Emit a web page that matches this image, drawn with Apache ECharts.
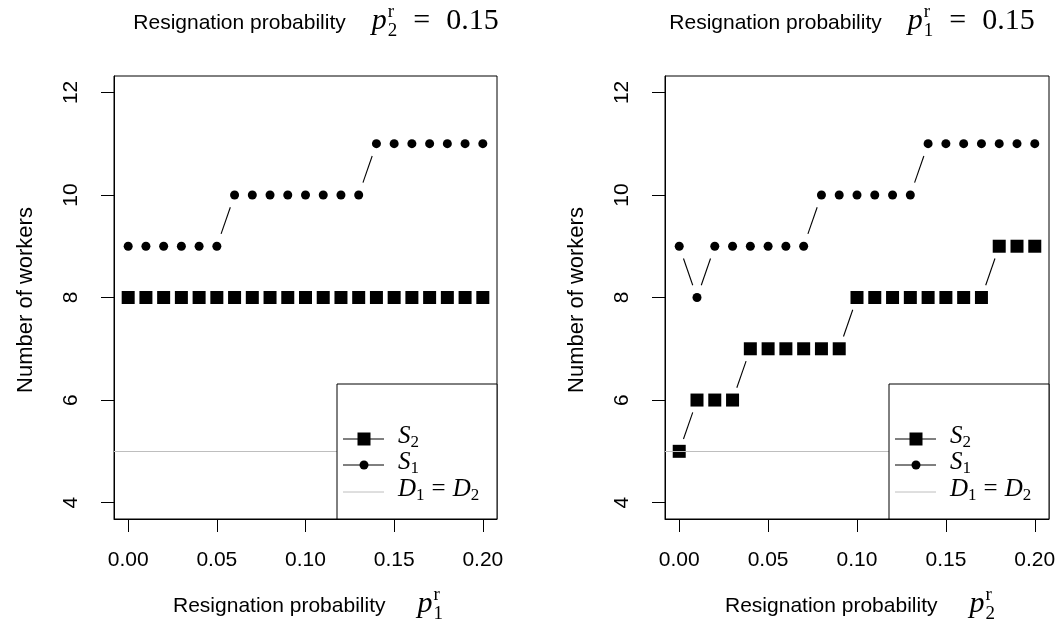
<!DOCTYPE html>
<html><head><meta charset="utf-8">
<script src="https://cdn.jsdelivr.net/npm/echarts@6/dist/echarts.min.js"></script>
<style>html,body{margin:0;padding:0;background:#fff}#c{width:1061px;height:624px}</style>
</head><body><div id="c"></div>
<script>
// ---- data ----
const xValues = [0.00,0.01,0.02,0.03,0.04,0.05,0.06,0.07,0.08,0.09,0.10,0.11,0.12,0.13,0.14,0.15,0.16,0.17,0.18,0.19,0.20];
const leftS2  = [8,8,8,8,8,8,8,8,8,8,8,8,8,8,8,8,8,8,8,8,8];
const leftS1  = [9,9,9,9,9,9,10,10,10,10,10,10,10,10,11,11,11,11,11,11,11];
const rightS2 = [5,6,6,6,7,7,7,7,7,7,8,8,8,8,8,8,8,8,9,9,9];
const rightS1 = [9,8,9,9,9,9,9,9,10,10,10,10,10,10,11,11,11,11,11,11,11];
const demandLevel = 5;
const xTicks = [0, 0.05, 0.10, 0.15, 0.20];
const yTicks = [4, 6, 8, 10, 12];

// ---- layout ----
const SANS = 'Liberation Sans, Arial, Helvetica, sans-serif';
const SERIF = 'Liberation Serif, Times New Roman, serif';
const FS = 21;
const MS = 30;   // math font size
const SS = 19;   // script size
const grids = [
  {left:114, top:76, width:383, height:443},
  {left:665, top:76, width:384, height:443}
];
const GAP = 13;

const ctx = document.createElement('canvas').getContext('2d');
function fstr(s){ return (s.it ? 'italic ' : '') + s.sz + 'px ' + s.fam; }
function tw(text, s){ ctx.font = fstr(s); return ctx.measureText(text).width; }

// segs: {t, fam, sz, it, dy, pad} or {stack:[sup, sub], pad}
function mathRow(segs, x0, cy, align){
  let total = 0;
  const widths = segs.map(s => {
    let w;
    if (s.stack) w = Math.max(...s.stack.map(q => tw(q.t, q)));
    else w = tw(s.t, s);
    w += (s.pad || 0);
    total += w; return w;
  });
  let x = align === 'center' ? x0 - total/2 : x0;
  const els = [];
  segs.forEach((s, i) => {
    const items = s.stack ? s.stack : [s];
    items.forEach(q => {
      els.push({type:'text', x: x, y: cy + (q.dy||0), z:100,
        style:{text:q.t, font:fstr(q), fill:'#000', align:'left', verticalAlign:'middle'}});
    });
    x += widths[i];
  });
  return els;
}

function pScript(sub, pad){
  return [
    {t:'p', fam:SERIF, sz:MS, it:true, dy:-2, pad:1},
    {stack:[{t:'r', fam:SERIF, sz:SS, dy:-11},{t:sub, fam:SERIF, sz:SS, dy:8}], pad:pad}
  ];
}
function titleSegs(sub){
  return [
    {t:'Resignation probability', fam:SANS, sz:FS, pad:26},
    ...pScript(sub, 16),
    {t:'=', fam:SERIF, sz:MS, dy:-2, pad:16},
    {t:'0.15', fam:SERIF, sz:MS, dy:-2}
  ];
}
function axisTitleSegs(sub){
  return [
    {t:'Resignation probability', fam:SANS, sz:FS, pad:32},
    ...pScript(sub, 0)
  ];
}

function legendEls(g){
  const bx = g.left + g.width - 160, by = g.top + g.height - 135;
  const els = [{type:'rect', z:100, shape:{x:bx, y:by, width:160, height:135},
    style:{fill:'#fff', stroke:'#000', lineWidth:1}}];
  const rows = [439, 465, 492];
  const lx1 = bx + 6, lx2 = bx + 47, mx = bx + 27, tx = bx + 61;
  els.push({type:'line', z:101, shape:{x1:lx1,y1:rows[0],x2:lx2,y2:rows[0]}, style:{stroke:'#000', lineWidth:1}});
  els.push({type:'rect', z:102, shape:{x:mx-6.5, y:rows[0]-6.5, width:13, height:13}, style:{fill:'#000'}});
  els.push({type:'line', z:101, shape:{x1:lx1,y1:rows[1],x2:lx2,y2:rows[1]}, style:{stroke:'#000', lineWidth:1}});
  els.push({type:'circle', z:102, shape:{cx:mx, cy:rows[1], r:4.5}, style:{fill:'#000'}});
  els.push({type:'line', z:101, shape:{x1:lx1,y1:rows[2],x2:lx2,y2:rows[2]}, style:{stroke:'#bebebe', lineWidth:1}});
  const LS = 25, LSS = 17;
  const S = (n) => [{t:'S', fam:SERIF, sz:LS, it:true, pad:0},{t:n, fam:SERIF, sz:LSS, dy:7}];
  els.push(...mathRow(S('2'), tx, rows[0]-3, 'left'));
  els.push(...mathRow(S('1'), tx, rows[1]-3, 'left'));
  els.push(...mathRow([
    {t:'D', fam:SERIF, sz:LS, it:true, pad:0},{t:'1', fam:SERIF, sz:LSS, dy:7, pad:7},
    {t:'=', fam:SERIF, sz:LS, pad:7},
    {t:'D', fam:SERIF, sz:LS, it:true, pad:0},{t:'2', fam:SERIF, sz:LSS, dy:7}
  ], tx, rows[2]-3, 'left'));
  return els;
}

function segData(ys){
  const d = [];
  for (let i = 1; i < xValues.length; i++) d.push([xValues[i-1], ys[i-1], xValues[i], ys[i]]);
  return d;
}
function renderGapLine(params, api){
  const a = api.coord([api.value(0), api.value(1)]);
  const b = api.coord([api.value(2), api.value(3)]);
  const dx = b[0]-a[0], dy = b[1]-a[1], L = Math.hypot(dx, dy);
  if (L <= 2*GAP) return {type:'group', children:[]};
  const ux = dx/L, uy = dy/L;
  return {type:'line', shape:{x1:a[0]+ux*GAP, y1:a[1]+uy*GAP, x2:b[0]-ux*GAP, y2:b[1]-uy*GAP},
    style:{stroke:'#000', lineWidth:1.1}};
}

function xAxis(i){
  return {gridIndex:i, type:'value', min:-0.008, max:0.208,
    splitLine:{show:false},
    axisLine:{show:true, onZero:false, lineStyle:{color:'#000', width:1}},
    axisTick:{show:true, customValues:xTicks, length:13, lineStyle:{color:'#000', width:1}},
    axisLabel:{customValues:xTicks, formatter:v => v.toFixed(2), margin:31,
      fontSize:FS, color:'#000', fontFamily:SANS}};
}
function yAxis(i){
  return {gridIndex:i, type:'value', min:3.68, max:12.32,
    splitLine:{show:false},
    axisLine:{show:true, onZero:false, lineStyle:{color:'#000', width:1}},
    axisTick:{show:true, customValues:yTicks, length:13, lineStyle:{color:'#000', width:1}},
    axisLabel:{customValues:yTicks, rotate:90, margin:32,
      fontSize:FS, color:'#000', fontFamily:SANS}};
}

function panelSeries(i, s2, s1){
  const pts = ys => xValues.map((x, k) => [x, ys[k]]);
  return [
    {type:'custom', xAxisIndex:i, yAxisIndex:i, data:segData(s2), renderItem:renderGapLine,
      encode:{x:[0,2], y:[1,3]}, silent:true, animation:false},
    {type:'custom', xAxisIndex:i, yAxisIndex:i, data:segData(s1), renderItem:renderGapLine,
      encode:{x:[0,2], y:[1,3]}, silent:true, animation:false},
    {type:'scatter', xAxisIndex:i, yAxisIndex:i, data:pts(s2), symbol:'rect', symbolSize:13,
      itemStyle:{color:'#000', opacity:1}, animation:false, silent:true},
    {type:'scatter', xAxisIndex:i, yAxisIndex:i, data:pts(s1), symbol:'circle', symbolSize:9,
      itemStyle:{color:'#000', opacity:1}, animation:false, silent:true,
      markLine:{silent:true, symbol:'none', label:{show:false}, animation:false, z:5,
        lineStyle:{color:'#bebebe', type:'solid', width:1}, data:[{yAxis:demandLevel}]}}
  ];
}

const graphics = [];
graphics.push(...mathRow(titleSegs('2'), 316, 23, 'center'));
graphics.push(...mathRow(titleSegs('1'), 852, 23, 'center'));
graphics.push(...mathRow(axisTitleSegs('1'), 308, 606, 'center'));
graphics.push(...mathRow(axisTitleSegs('2'), 860, 606, 'center'));
[26, 577].forEach(x => graphics.push({type:'text', x:x, y:300, rotation:Math.PI/2, z:100,
  style:{text:'Number of workers', font:(FS+1)+'px '+SANS, fill:'#000', align:'center', verticalAlign:'middle'}}));
graphics.push(...legendEls(grids[0]));
graphics.push(...legendEls(grids[1]));

const chart = echarts.init(document.getElementById('c'), null, {renderer:'canvas'});
chart.setOption({
  animation:false,
  backgroundColor:'#fff',
  grid: grids.map(g => Object.assign({show:true, borderColor:'#000', borderWidth:1, backgroundColor:'transparent'}, g)),
  xAxis:[xAxis(0), xAxis(1)],
  yAxis:[yAxis(0), yAxis(1)],
  series:[...panelSeries(0, leftS2, leftS1), ...panelSeries(1, rightS2, rightS1)],
  graphic: graphics
});
</script>
</body></html>
